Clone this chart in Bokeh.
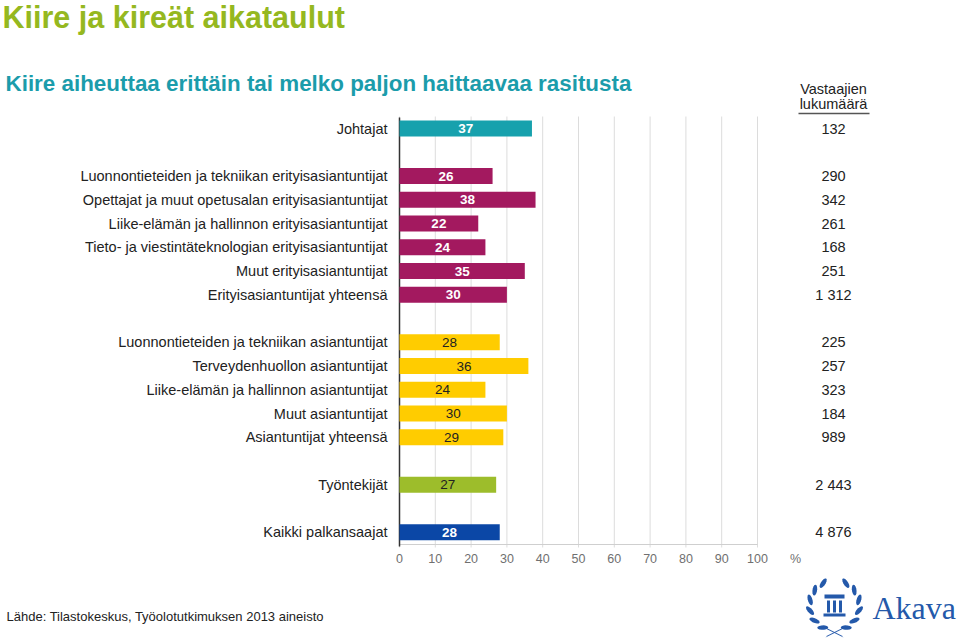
import math
from bokeh.plotting import figure
from bokeh.layouts import column
from bokeh.models import Range1d, FixedTicker, ColumnDataSource
from bokeh.core.properties import value
from bokeh.embed import file_html
from bokeh.resources import INLINE

# ---------------- data ----------------
cat_johtajat = ["Johtajat"]
val_johtajat = [37]
n_johtajat = ["132"]

cat_erityis = [
    "Luonnontieteiden ja tekniikan erityisasiantuntijat",
    "Opettajat ja muut opetusalan erityisasiantuntijat",
    "Liike-elämän ja hallinnon erityisasiantuntijat",
    "Tieto- ja viestintäteknologian erityisasiantuntijat",
    "Muut erityisasiantuntijat",
    "Erityisasiantuntijat yhteensä",
]
val_erityis = [26, 38, 22, 24, 35, 30]
n_erityis = ["290", "342", "261", "168", "251", "1 312"]

cat_asiant = [
    "Luonnontieteiden ja tekniikan asiantuntijat",
    "Terveydenhuollon asiantuntijat",
    "Liike-elämän ja hallinnon asiantuntijat",
    "Muut asiantuntijat",
    "Asiantuntijat yhteensä",
]
val_asiant = [28, 36, 24, 30, 29]
n_asiant = ["225", "257", "323", "184", "989"]

cat_tyontekijat = ["Työntekijät"]
val_tyontekijat = [27]
n_tyontekijat = ["2 443"]

cat_kaikki = ["Kaikki palkansaajat"]
val_kaikki = [28]
n_kaikki = ["4 876"]

x_ticks = [0, 10, 20, 30, 40, 50, 60, 70, 80, 90, 100]
unit_label = "%"

title_text = "Kiire ja kireät aikataulut"
subtitle_text = "Kiire aiheuttaa erittäin tai melko paljon haittaavaa rasitusta"
count_header = ["Vastaajien", "lukumäärä"]
source_text = "Lähde: Tilastokeskus, Työolotutkimuksen 2013 aineisto"
logo_text = "Akava"

# ---------------- styles ----------------
FONT = "Liberation Sans"
groups = [
    (cat_johtajat, val_johtajat, n_johtajat, "#17a1ad", "white", "bold"),
    (cat_erityis, val_erityis, n_erityis, "#a3195f", "white", "bold"),
    (cat_asiant, val_asiant, n_asiant, "#ffcc00", "#222222", "normal"),
    (cat_tyontekijat, val_tyontekijat, n_tyontekijat, "#9dbd2b", "#222222", "normal"),
    (cat_kaikki, val_kaikki, n_kaikki, "#0b47a6", "white", "bold"),
]

# page-pixel helpers: x 0..100 -> page 399..757, row 0 -> page y 128
PX0, PXS = 399.0, 3.58
PY0, PYS = 128.0, 23.75


def dx(px):
    return (px - PX0) / PXS


def dy(py):
    return (py - PY0) / PYS


W, H_TOP, H_BOT = 960, 570, 69
FRAME_BOTTOM = 548

p = figure(width=W, height=H_TOP, output_backend="svg", toolbar_location=None,
           x_range=Range1d(dx(0), dx(W)), y_range=Range1d(dy(FRAME_BOTTOM), dy(0)),
           min_border_left=0, min_border_right=0, min_border_top=0,
           min_border_bottom=H_TOP - FRAME_BOTTOM)
p.outline_line_color = None
p.background_fill_color = "white"
p.border_fill_color = "white"
p.yaxis.visible = False
p.xgrid.grid_line_color = None
p.ygrid.grid_line_color = None

# grid lines, axis lines
p.segment(x0=x_ticks, x1=x_ticks, y0=[dy(116)] * len(x_ticks),
          y1=[dy(547)] * len(x_ticks), line_color="#dcdcdc", line_width=1)
p.segment(x0=[0], x1=[100], y0=[dy(544)], y1=[dy(544)], line_color="#cfcfcf",
          line_width=1)
p.segment(x0=[0], x1=[0], y0=[dy(117)], y1=[dy(546)], line_color="#333333",
          line_width=1.5)

row = 0
for cats, vals, counts, color, tcol, tstyle in groups:
    rows = list(range(row, row + len(cats)))
    src = ColumnDataSource(dict(y=rows, right=vals, mid=[v / 2 for v in vals],
                                txt=[str(v) for v in vals], cat=cats, n=counts))
    p.hbar(y="y", left=0, right="right", height=0.674, source=src,
           fill_color=color, line_color=None)
    p.text(x="mid", y="y", text="txt", source=src, text_align="center",
           text_baseline="middle", text_color=tcol, text_font_style=tstyle,
           text_font=value(FONT), text_font_size=value("13.5px"))
    p.text(x=dx(387), y="y", text="cat", source=src, text_align="right",
           text_baseline="middle", text_color="#222222",
           text_font=value(FONT), text_font_size=value("14.5px"))
    p.text(x=dx(833), y="y", text="n", source=src, text_align="center",
           text_baseline="middle", text_color="#222222",
           text_font=value(FONT), text_font_size=value("14.5px"))
    row += len(cats) + 1

# x axis (tick labels) with the unit as an extra label
unit_pos = dx(795)
p.xaxis.ticker = FixedTicker(ticks=x_ticks + [unit_pos])
p.xaxis.major_label_overrides = {unit_pos: unit_label}
p.xaxis.axis_line_color = None
p.xaxis.major_tick_line_color = None
p.xaxis.minor_tick_line_color = None
p.xaxis.major_tick_out = 0
p.xaxis.major_tick_in = 0
p.xaxis.major_label_standoff = 3
p.xaxis.major_label_text_font = FONT
p.xaxis.major_label_text_font_size = "12.5px"
p.xaxis.major_label_text_color = "#707070"

# titles and header
p.text(x=[dx(2)], y=[dy(16)], text=[title_text], text_font=value(FONT),
       text_font_size=value("30.5px"), text_font_style="bold",
       text_color="#95b820", text_baseline="middle")
p.text(x=[dx(5)], y=[dy(82.5)], text=[subtitle_text], text_font=value(FONT),
       text_font_size=value("22.4px"), text_font_style="bold",
       text_color="#1b9cab", text_baseline="middle")
p.text(x=[dx(833), dx(833)], y=[dy(88), dy(103.5)], text=count_header,
       text_font=value(FONT), text_font_size=value("14.5px"),
       text_color="#222222", text_align="center", text_baseline="middle")
p.segment(x0=[dx(798)], x1=[dx(869)], y0=[dy(113)], y1=[dy(113)],
          line_color="#555555", line_width=1.5)

# ---------------- bottom strip: source + logo ----------------
b = figure(width=W, height=H_BOT, output_backend="svg", toolbar_location=None,
           x_range=Range1d(0, W), y_range=Range1d(H_TOP + H_BOT, H_TOP),
           min_border=0)
b.axis.visible = False
b.grid.grid_line_color = None
b.outline_line_color = None
b.background_fill_color = "white"
b.border_fill_color = "white"

b.text(x=[6], y=[615.5], text=[source_text], text_font=value(FONT),
       text_font_size=value("13px"), text_color="#222222",
       text_baseline="middle")

LOGO = "#2459aa"
b.text(x=[872], y=[607], text=[logo_text], text_font=value("Liberation Serif"),
       text_font_size=value("32px"), text_color=LOGO, text_baseline="middle")

cx, cy, R = 834.0, 605.0, 23.0
leaf_xs, leaf_ys = [], []
for s in (-1, 1):
    for phi_deg in (28, 53, 78, 103, 128, 153):
        phi = math.radians(phi_deg)
        px = cx + s * R * math.sin(phi)
        py = cy + R * math.cos(phi)
        tx, ty = s * math.cos(phi), -math.sin(phi)
        ox, oy = s * math.sin(phi), math.cos(phi)
        a = math.radians(30)
        ax = tx * math.cos(a) + ox * math.sin(a)
        ay = ty * math.cos(a) + oy * math.sin(a)
        nx, ny = -ay, ax
        xs, ys = [], []
        for k in range(14):
            t = 2 * math.pi * k / 14
            u, v = 5.5 * math.cos(t), 2.3 * math.sin(t)
            xs.append(px + ox * 2 + u * ax + v * nx)
            ys.append(py + oy * 2 + u * ay + v * ny)
        leaf_xs.append(xs)
        leaf_ys.append(ys)
# crossing stems at the bottom
for s in (-1, 1):
    leaf_xs.append([cx - s * 9, cx - s * 7, cx + s * 9, cx + s * 7])
    leaf_ys.append([627, 629, 637, 635])
b.patches(xs=leaf_xs, ys=leaf_ys, fill_color=LOGO, line_color=None)

col_left = [824, 826.5, 832.5, 838.5, 823]
col_right = [844, 829.5, 835.5, 841.5, 845]
col_top = [594, 600, 600, 600, 613]
col_bottom = [598, 612, 612, 612, 616]
b.quad(left=col_left, right=col_right, top=col_top, bottom=col_bottom,
       fill_color=LOGO, line_color=None)

open("out.html", "w").write(file_html(column(p, b), INLINE))
